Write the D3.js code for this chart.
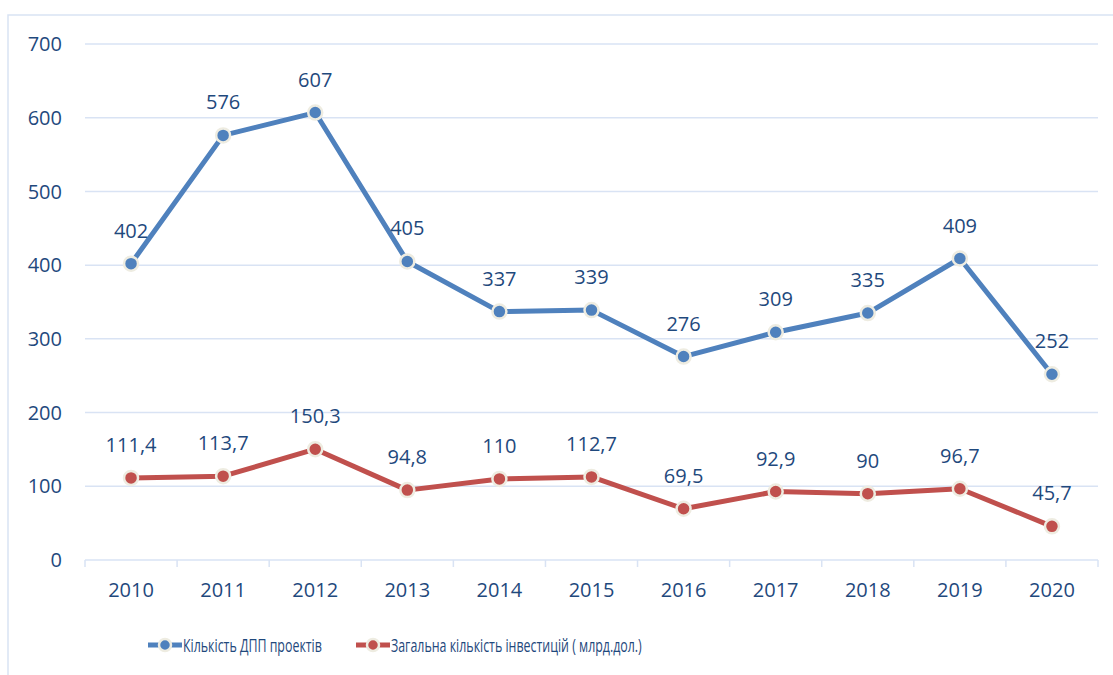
<!DOCTYPE html>
<html>
<head>
<meta charset="utf-8">
<style>
  body { margin: 0; background: #fff; }
  text { font-family: "Open Sans", sans-serif; fill: #1f497d; }
</style>
</head>
<body>
<svg width="1113" height="675"></svg>
<script src="https://cdn.jsdelivr.net/npm/d3@7"></script>
<script>
// data
var years = ["2010", "2011", "2012", "2013", "2014", "2015", "2016", "2017", "2018", "2019", "2020"];
var projects = [402, 576, 607, 405, 337, 339, 276, 309, 335, 409, 252];
var investments = [111.4, 113.7, 150.3, 94.8, 110, 112.7, 69.5, 92.9, 90, 96.7, 45.7];
var yTicks = [0, 100, 200, 300, 400, 500, 600, 700];
var seriesNames = ["Кількість ДПП проектів", "Загальна кількість інвестицій ( млрд.дол.)"];

var BLUE = "#4f81bd", RED = "#c0504d", GRID = "#d9e3f4", RIM = "#eeece1";

var svg = d3.select("svg");

// outer frame (top + left only visible)
svg.append("path")
  .attr("d", "M8,675V15H1113")
  .attr("fill", "none").attr("stroke", GRID).attr("stroke-width", 1.5);

var x = d3.scaleBand().domain(years).range([85, 1098]);
var y = d3.scaleLinear().domain([0, 700]).range([560, 44]);

// gridlines
svg.append("g").selectAll("line").data(yTicks.slice(1)).enter().append("line")
  .attr("x1", 85).attr("x2", 1098)
  .attr("y1", function(d) { return y(d); }).attr("y2", function(d) { return y(d); })
  .attr("stroke", GRID).attr("stroke-width", 1.5);

// y labels
svg.append("g").selectAll("text").data(yTicks).enter().append("text")
  .attr("x", 62).attr("y", function(d) { return y(d); })
  .attr("dy", "0.36em")
  .attr("text-anchor", "end")
  .attr("font-size", 20)
  .text(function(d) { return d; });

// x axis
var gx = svg.append("g").attr("transform", "translate(0,560)");
gx.append("line").attr("x1", 85).attr("x2", 1098).attr("stroke", GRID).attr("stroke-width", 1.5);
var bounds = years.map(function(d) { return x(d); }).concat([x.range()[1]]);
gx.selectAll(".tk").data(bounds).enter().append("line")
  .attr("class", "tk")
  .attr("x1", function(d) { return d; }).attr("x2", function(d) { return d; })
  .attr("y1", 0).attr("y2", 7)
  .attr("stroke", GRID).attr("stroke-width", 1.5);
gx.selectAll(".lbl").data(years).enter().append("text")
  .attr("class", "lbl")
  .attr("x", function(d) { return x(d) + x.bandwidth() / 2; })
  .attr("y", 37)
  .attr("text-anchor", "middle")
  .attr("font-size", 20)
  .text(function(d) { return d; });

var cx = function(d, i) { return x(years[i]) + x.bandwidth() / 2; };
var line = d3.line()
  .x(function(d, i) { return cx(d, i); })
  .y(function(d) { return y(d); });

function fmt(v) { return String(v).replace(".", ","); }

function drawSeries(vals, color) {
  var g = svg.append("g");
  g.append("path").datum(vals)
    .attr("d", line)
    .attr("fill", "none").attr("stroke", color)
    .attr("stroke-width", 5).attr("stroke-linejoin", "round");
  g.selectAll("circle").data(vals).enter().append("circle")
    .attr("cx", cx).attr("cy", function(d) { return y(d); })
    .attr("r", 7).attr("fill", color)
    .attr("stroke", RIM).attr("stroke-width", 2.5);
  g.selectAll("text").data(vals).enter().append("text")
    .attr("x", cx).attr("y", function(d) { return y(d) - 26; })
    .attr("text-anchor", "middle")
    .attr("font-size", 20)
    .text(fmt);
}

drawSeries(projects, BLUE);
drawSeries(investments, RED);

// legend (text squeezed horizontally like the original)
var legend = [
  { name: seriesNames[0], color: BLUE, x: 148, len: 139 },
  { name: seriesNames[1], color: RED, x: 356, len: 251 }
];
var lg = svg.append("g").selectAll("g").data(legend).enter().append("g")
  .attr("transform", function(d) { return "translate(" + d.x + ",645)"; });
lg.append("line").attr("x1", 0).attr("x2", 34)
  .attr("stroke", function(d) { return d.color; }).attr("stroke-width", 5);
lg.append("circle").attr("cx", 17).attr("r", 6)
  .attr("fill", function(d) { return d.color; })
  .attr("stroke", RIM).attr("stroke-width", 2.5);
lg.append("text")
  .attr("dy", "0.36em")
  .attr("font-size", 19)
  .text(function(d) { return d.name; })
  .attr("transform", function(d) {
    var w = this.getComputedTextLength();
    return "translate(35,0) scale(" + (d.len / w) + ",1)";
  });
</script>
</body>
</html>
